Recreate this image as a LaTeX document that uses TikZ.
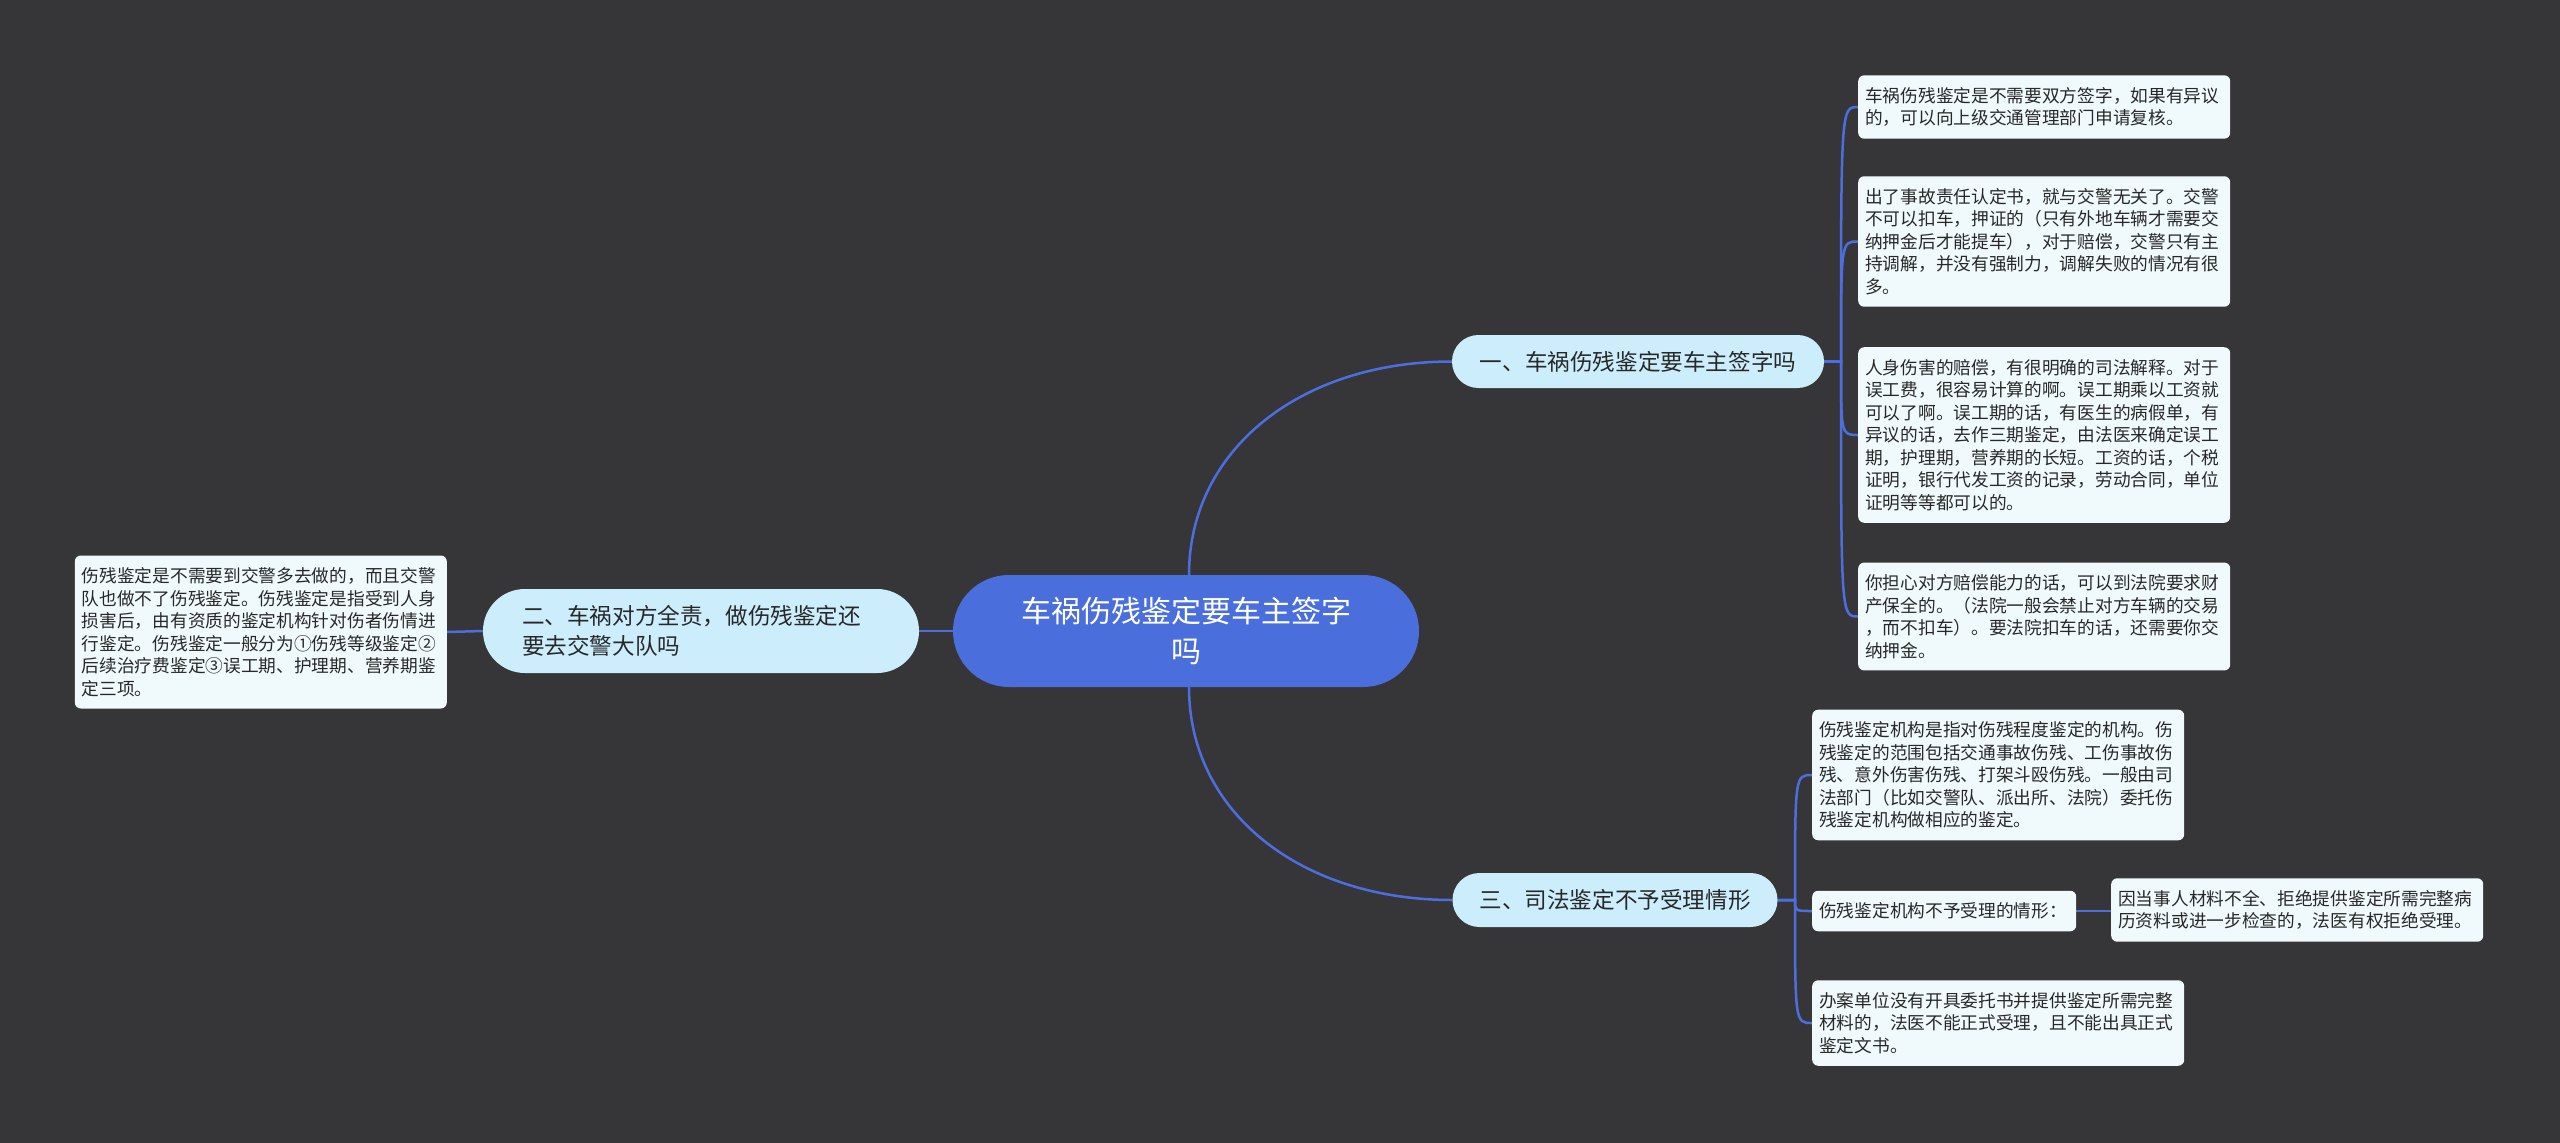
\documentclass[tikz,border=0pt]{standalone}
\usepackage{fontspec}
\setmainfont{Noto Sans CJK SC}
\usetikzlibrary{backgrounds}
\definecolor{bgc}{RGB}{54,53,56}
\definecolor{rootc}{RGB}{74,111,220}
\definecolor{lonec}{RGB}{204,238,252}
\definecolor{leafc}{RGB}{240,250,253}
\definecolor{txtc}{RGB}{40,40,40}
\definecolor{linkc}{RGB}{76,110,222}
\begin{document}
\begin{tikzpicture}[x=1pt,y=-1pt,
  central/.style={fill=rootc, text=white, rounded corners=55.9pt, minimum width=466pt, minimum height=112pt,
    font=\fontsize{30}{40}\selectfont, align=center, inner sep=0pt},
  lvlone/.style={fill=lonec, text=txtc, font=\fontsize{22.6}{30}\selectfont, inner sep=0pt},
  leaf/.style={fill=leafc, text=txtc, rounded corners=6pt, font=\fontsize{17.7}{22.5}\selectfont,
    align=left, text width=358pt, inner xsep=7pt, inner ysep=12pt},
  link/.style={draw=linkc, line width=2.5pt}]
\useasboundingbox (0,0) rectangle (2560,1143);

% root
\node[central] (root) at (1186,631) {车祸伤残鉴定要车主签字\\吗};

% level one
\node[lvlone, minimum width=372pt, minimum height=53pt, rounded corners=26.4pt] (n1) at (1638,361.5) {一、车祸伤残鉴定要车主签字吗};
\node[lvlone, minimum width=325pt, minimum height=54pt, rounded corners=26.9pt] (n3) at (1615,900) {三、司法鉴定不予受理情形};
\node[lvlone, minimum width=436pt, minimum height=84pt, rounded corners=41.9pt, align=left, text width=358pt] (n2) at (701,631) {二、车祸对方全责，做伤残鉴定还\\要去交警大队吗};

% leaves of 一
\node[leaf, anchor=west] (a1) at (1858,107) {车祸伤残鉴定是不需要双方签字，如果有异议\\的，可以向上级交通管理部门申请复核。};
\node[leaf, anchor=west] (a2) at (1858,241.5) {出了事故责任认定书，就与交警无关了。交警\\不可以扣车，押证的（只有外地车辆才需要交\\纳押金后才能提车），对于赔偿，交警只有主\\持调解，并没有强制力，调解失败的情况有很\\多。};
\node[leaf, anchor=west] (a3) at (1858,435) {人身伤害的赔偿，有很明确的司法解释。对于\\误工费，很容易计算的啊。误工期乘以工资就\\可以了啊。误工期的话，有医生的病假单，有\\异议的话，去作三期鉴定，由法医来确定误工\\期，护理期，营养期的长短。工资的话，个税\\证明，银行代发工资的记录，劳动合同，单位\\证明等等都可以的。};
\node[leaf, anchor=west] (a4) at (1858,616.5) {你担心对方赔偿能力的话，可以到法院要求财\\产保全的。（法院一般会禁止对方车辆的交易\\，而不扣车）。要法院扣车的话，还需要你交\\纳押金。};

% leaves of 三
\node[leaf, anchor=west] (b1) at (1812,775) {伤残鉴定机构是指对伤残程度鉴定的机构。伤\\残鉴定的范围包括交通事故伤残、工伤事故伤\\残、意外伤害伤残、打架斗殴伤残。一般由司\\法部门（比如交警队、派出所、法院）委托伤\\残鉴定机构做相应的鉴定。};
\node[leaf, anchor=west, text width=250pt] (b2) at (1812,911) {伤残鉴定机构不予受理的情形：};
\node[leaf, anchor=west] (b3) at (1812,1023) {办案单位没有开具委托书并提供鉴定所需完整\\材料的，法医不能正式受理，且不能出具正式\\鉴定文书。};
\node[leaf, anchor=west] (c1) at (2111,910) {因当事人材料不全、拒绝提供鉴定所需完整病\\历资料或进一步检查的，法医有权拒绝受理。};

% leaf of 二
\node[leaf, anchor=east] (l1) at (447,632) {伤残鉴定是不需要到交警多去做的，而且交警\\队也做不了伤残鉴定。伤残鉴定是指受到人身\\损害后，由有资质的鉴定机构针对伤者伤情进\\行鉴定。伤残鉴定一般分为①伤残等级鉴定②\\后续治疗费鉴定③误工期、护理期、营养期鉴\\定三项。};

% connectors
\begin{scope}[on background layer]
\fill[bgc] (0,0) rectangle (2560,1143);
\draw[link] (root.north) ++(3,0) coordinate (rt) .. controls (1189,450) and (1300,361.5) .. (n1.west);
\draw[link] (root.south) ++(3,0) coordinate (rb) .. controls (1189,812) and (1300,900) .. (n3.west);
\draw[link] (root.west) -- (n2.east);
\draw[link] (n2.west) -- (l1.east);
\coordinate (j1) at (1841,361.5);
\foreach \t in {a1,a2,a3,a4}{
  \draw[link] (n1.east) -- (j1) .. controls (j1 |- \t.west) .. (\t.west);
}
\coordinate (j3) at (1795,900);
\foreach \t in {b1,b2,b3}{
  \draw[link] (n3.east) -- (j3) .. controls (j3 |- \t.west) .. (\t.west);
}
\draw[link] (b2.east) -- (b2.east -| c1.west);
\end{scope}
\end{tikzpicture}
\end{document}
